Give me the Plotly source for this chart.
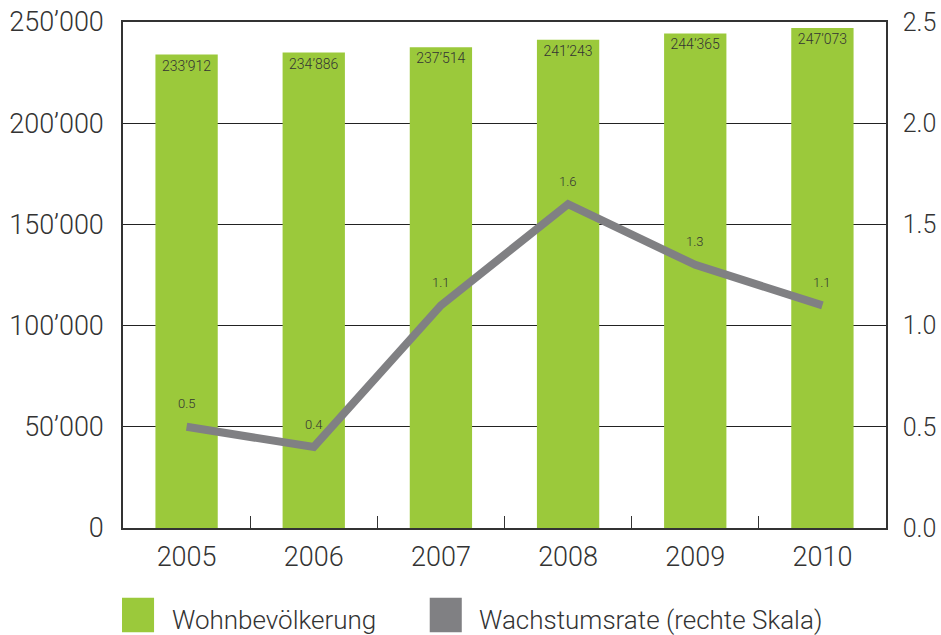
import plotly.graph_objects as go

# Wohnbevölkerung und jährliche Wachstumsrate, 2005–2010
years = ["2005", "2006", "2007", "2008", "2009", "2010"]
population = [233912, 234886, 237514, 241243, 244365, 247073]
growth_rate = [0.5, 0.4, 1.1, 1.6, 1.3, 1.1]

left_tickvals = [0, 50000, 100000, 150000, 200000, 250000]
left_ticktext = ["0", "50’000", "100’000", "150’000", "200’000", "250’000"]
right_tickvals = [0.0, 0.5, 1.0, 1.5, 2.0, 2.5]
right_ticktext = ["0.0", "0.5", "1.0", "1.5", "2.0", "2.5"]

GREEN = "#9BC93B"
GREY = "#808083"
INK = "#333333"
FONT = "Roboto"
WEIGHT = 300


def swiss(n):
    return f"{n:,}".replace(",", "’")


fig = go.Figure()

fig.add_trace(go.Bar(
    x=years,
    y=population,
    marker=dict(color=GREEN, line=dict(width=0)),
    text=[swiss(v) for v in population],
    textposition="inside",
    insidetextanchor="end",
    textangle=0,
    textfont=dict(family=FONT, size=14, color=INK, weight=WEIGHT),
    name="Wohnbevölkerung",
    yaxis="y",
    showlegend=False,
))

fig.add_trace(go.Scatter(
    x=years,
    y=growth_rate,
    mode="lines",
    line=dict(color=GREY, width=8),
    name="Wachstumsrate (rechte Skala)",
    yaxis="y2",
    showlegend=False,
))

# value labels above the growth line (category index positions)
for i, r in enumerate(growth_rate):
    fig.add_annotation(
        x=i, y=r, xref="x", yref="y2",
        text=f"{r:.1f}", showarrow=False, yshift=23,
        font=dict(family=FONT, size=13, color=INK, weight=WEIGHT),
    )

# legend drawn below the plot
legend_items = [
    (GREEN, "Wohnbevölkerung", -0.0013, 0.0616),
    (GREY, "Wachstumsrate (rechte Skala)", 0.402, 0.464),
]
for color, label, x0, tx in legend_items:
    fig.add_shape(
        type="rect", xref="paper", yref="paper",
        x0=x0, x1=x0 + 0.042, y0=-0.138, y1=-0.206,
        fillcolor=color, line=dict(width=0),
    )
    fig.add_annotation(
        x=tx, y=-0.182, xref="paper", yref="paper",
        text=label, showarrow=False, xanchor="left", yanchor="middle",
        font=dict(family=FONT, size=26, color=INK, weight=WEIGHT),
    )

tick_font = dict(family=FONT, size=27, color=INK, weight=WEIGHT)

fig.update_layout(
    width=941,
    height=635,
    margin=dict(l=123, r=55, t=22, b=107, autoexpand=False),
    paper_bgcolor="white",
    plot_bgcolor="white",
    bargap=0.51,
    font=dict(family=FONT, color=INK),
    xaxis=dict(
        type="category",
        categoryorder="array", categoryarray=years,
        range=[-0.5, len(years) - 0.5],
        showline=True, mirror=True, linecolor=INK, linewidth=1.5,
        ticks="inside", tickson="boundaries", ticklen=12, tickcolor=INK, tickwidth=1,
        showgrid=False, automargin=False,
        tickfont=tick_font,
        ticklabelstandoff=4,
    ),
    yaxis=dict(
        range=[0, 250000],
        tickvals=left_tickvals, ticktext=left_ticktext,
        showline=True, linecolor=INK, linewidth=1.5,
        showgrid=True, gridcolor="#222222", gridwidth=1,
        zeroline=False, ticks="", automargin=False,
        tickfont=tick_font,
        ticklabelstandoff=12,
    ),
    yaxis2=dict(
        range=[0, 2.5], overlaying="y", side="right",
        tickvals=right_tickvals, ticktext=right_ticktext,
        showline=True, linecolor=INK, linewidth=1.5,
        showgrid=False, zeroline=False, ticks="", automargin=False,
        tickfont=dict(family=FONT, size=25, color=INK, weight=WEIGHT),
        ticklabelstandoff=10,
    ),
)

fig.write_html("out.html")
